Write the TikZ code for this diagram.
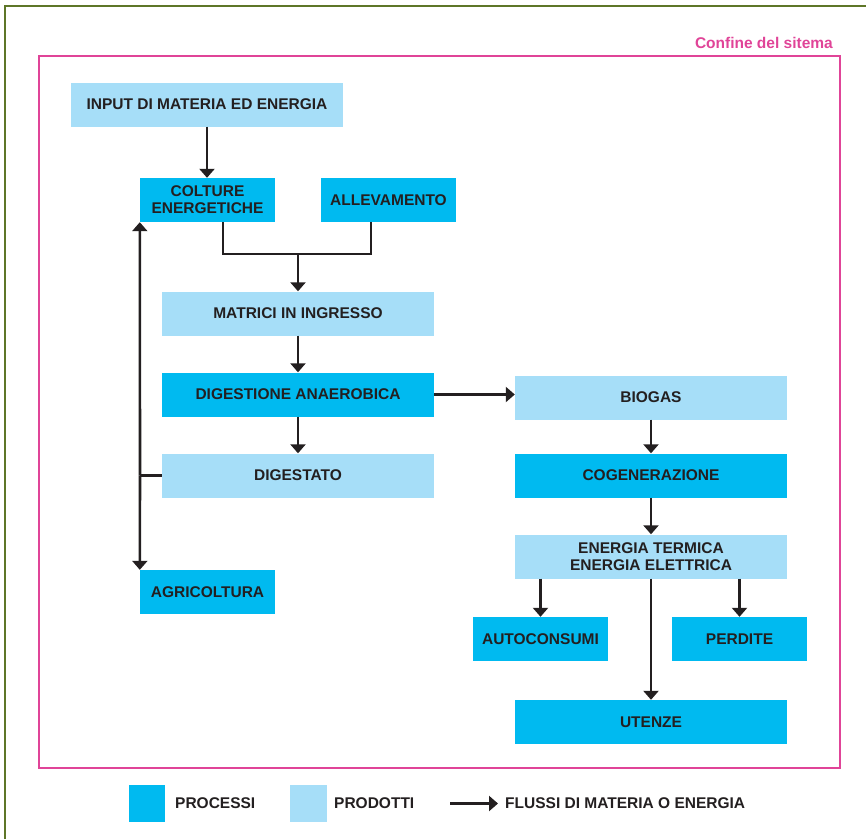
\documentclass[tikz,border=0pt]{standalone}
\usepackage{fontspec}
\setmainfont{Liberation Sans}
\usetikzlibrary{arrows.meta,positioning,calc}
\definecolor{proc}{RGB}{0,186,240}
\definecolor{prod}{RGB}{166,222,248}
\definecolor{pinkb}{RGB}{224,68,152}
\definecolor{olive}{RGB}{94,118,40}
\definecolor{ink}{RGB}{35,31,32}
\tikzset{
  box/.style={rectangle, inner sep=0pt, align=center, text=ink,
    font=\fontsize{15.5}{17}\selectfont\bfseries},
  procbox/.style={box, fill=proc},
  prodbox/.style={box, fill=prod},
  wide/.style={minimum width=272pt, minimum height=44pt},
  narrow/.style={minimum width=135pt, minimum height=44pt},
  flow/.style={draw=ink, line width=2.6pt, -{Triangle[width=15pt,length=9pt]}},
  plain/.style={draw=ink, line width=2.6pt},
  legtext/.style={anchor=west, inner sep=0pt, text=ink, font=\fontsize{15.5}{17}\selectfont\bfseries}
}
\begin{document}
\begin{tikzpicture}[x=1pt,y=-1pt]
\useasboundingbox (0,0) rectangle (866,839);
% outer olive frame
\draw[olive, line width=2.2pt] (5,839) -- (5,6) -- (866,6);
% system boundary
\draw[pinkb, line width=2.8pt] (39,56) rectangle (840,768);
\node[anchor=base east, inner sep=0pt, text=pinkb, font=\fontsize{15.5}{17}\selectfont\bfseries] (confine) at (833,48) {Confine del sitema};

% nodes
\node[prodbox, wide] (input) at (207,104.5) {INPUT DI MATERIA ED ENERGIA};
\node[procbox, narrow] (colture) at (207.5,200) {COLTURE\\ENERGETICHE};
\node[procbox, narrow] (allev) at (388.5,200) {ALLEVAMENTO};
\node[prodbox, wide] (matrici) at (298,313.5) {MATRICI IN INGRESSO};
\node[procbox, wide] (digest) at (298,394.5) {DIGESTIONE ANAEROBICA};
\node[prodbox, wide] (digestato) at (298,475.5) {DIGESTATO};
\node[procbox, narrow] (agri) at (207.5,592) {AGRICOLTURA};
\node[prodbox, wide] (biogas) at (651,397.5) {BIOGAS};
\node[procbox, wide] (cogen) at (651,475.5) {COGENERAZIONE};
\node[prodbox, wide] (energia) at (651,556.5) {ENERGIA TERMICA\\ENERGIA ELETTRICA};
\node[procbox, narrow] (auto) at (540.5,639) {AUTOCONSUMI};
\node[procbox, narrow] (perdite) at (739.5,639) {PERDITE};
\node[procbox, wide] (utenze) at (651,722) {UTENZE};

% connectors
\draw[flow] (input.south) -- (input.south |- colture.north);
\coordinate (j) at (298,254);
\draw[plain] ([xshift=15.5pt]colture.south) |- (j) -| ([xshift=-17.5pt]allev.south);
\draw[flow] (j) -- (j |- matrici.north);
\draw[flow] (matrici.south) -- (digest.north);
\draw[flow] (digest.south) -- (digestato.north);
\draw[flow] (digest.east) -- (digest.east -| biogas.west);
\draw[flow] (biogas.south) -- (cogen.north);
\draw[flow] (cogen.south) -- (energia.north);
\draw[flow] (energia.south) -- (utenze.north);
\draw[flow] (energia.south -| auto.north) -- (auto.north);
\draw[flow] (energia.south -| perdite.north) -- (perdite.north);
\coordinate (L) at (140,475.5);
\draw[plain] (digestato.west) -- (L);
\draw[flow] (L) -- (colture.south west);
\draw[flow] (L) -- (agri.north west);

% legend
\node[procbox, minimum width=36pt, minimum height=37pt] (lproc) at (147,803.5) {};
\node[legtext] (tproc) at (175,803.5) {PROCESSI};
\node[prodbox, minimum width=37pt, minimum height=37pt] (lprod) at (308.5,803.5) {};
\node[legtext] (tprod) at (334,803.5) {PRODOTTI};
\coordinate (a1) at (450,803.5);
\node[legtext] (tflow) at (505,803.5) {FLUSSI DI MATERIA O ENERGIA};
\draw[flow, line width=2.4pt] (a1) -- ([xshift=-7pt]tflow.west);
\end{tikzpicture}
\end{document}
